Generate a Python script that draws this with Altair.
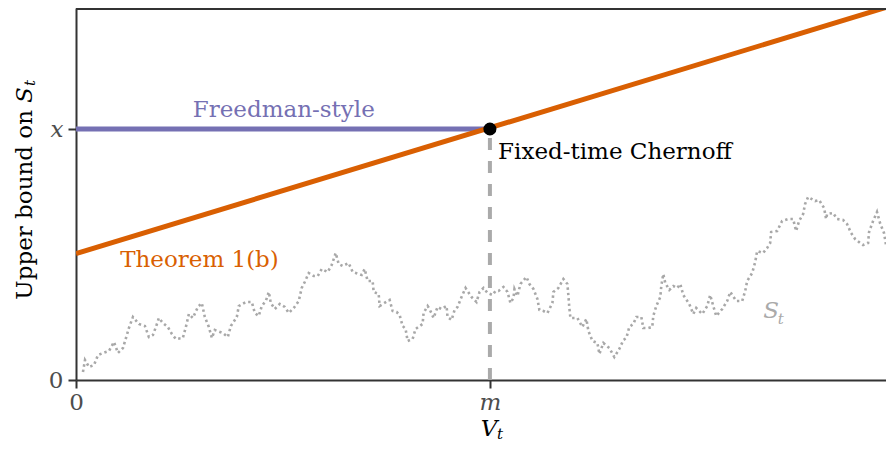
import altair as alt
import pandas as pd

# ---------------- data ----------------
walk_v = [0.85,1.10,1.59,2.20,2.69,3.30,4.03,4.64,5.13,5.74,
          6.11,6.47,6.96,7.69,8.42,8.91,9.40,9.77,10.13,10.62,
          11.23,11.72,12.21,13.06,13.43,13.80,14.29,14.90,15.38,15.75,
          16.24,16.61,16.97,17.95,18.56,18.93,19.66,19.90,20.76,21.49,
          21.86,22.34,22.71,23.20,23.57,23.81,24.30,24.91,25.52,26.01,
          26.62,27.23,27.59,27.96,28.45,29.06,29.55,30.04,30.77,31.26,
          31.75,32.11,32.60,33.33,33.82,34.92,35.29,35.65,36.26,36.39,
          37.00,37.12,38.10,38.34,38.71,39.19,39.56,39.93,40.29,40.54,
          41.15,41.51,42.37,42.49,42.98,43.22,43.71,44.20,44.69,45.30,
          45.42,45.91,46.28,46.64,47.13,47.62,48.35,48.96,49.33,49.82,
          50.31,50.92,51.28,51.65,52.26,52.75,53.11,53.48,53.60,53.97,
          54.33,55.07,55.43,55.92,56.41,56.65,57.14,57.63,58.24,58.36,
          58.97,59.58,60.07,60.20,60.30,60.44,61.29,61.90,62.39,62.64,
          63.13,63.74,63.98,64.47,65.20,65.81,66.42,66.91,67.28,67.64,
          68.13,68.50,69.11,69.35,69.96,70.45,70.57,70.94,71.43,71.55,
          71.79,72.04,72.53,73.02,73.50,73.87,74.24,74.97,75.46,75.82,
          76.56,77.17,77.53,77.90,78.27,79.00,79.61,79.98,80.71,81.44,
          81.81,82.05,82.66,83.03,83.27,84.00,84.49,84.86,84.98,85.71,
          86.32,87.06,87.67,88.03,88.40,88.89,89.13,89.50,90.35,90.84,
          91.45,91.70,91.82,92.55,93.04,93.77,94.26,94.75,95.24,95.85,
          96.21,96.83,96.95,97.44,97.92,98.29,98.78,99.02,99.51,99.88]
walk_s = [3.2,8.0,5.2,6.0,10.0,10.8,11.6,15.2,10.8,12.8,
          16.8,20.8,25.2,22.4,21.6,17.2,18.0,21.2,24.8,22.8,
          21.2,18.4,16.4,16.8,21.2,26.4,24.8,29.2,30.8,25.2,
          21.2,16.8,20.0,18.8,17.2,21.6,25.2,29.6,31.2,31.2,
          26.8,25.6,29.6,31.6,35.2,30.8,28.4,30.4,29.2,26.8,
          28.8,31.6,36.8,39.2,42.8,41.6,41.6,44.4,43.2,46.0,
          50.8,46.4,45.6,46.8,43.2,42.0,44.4,39.6,39.6,35.2,
          34.4,29.6,31.6,32.0,27.6,27.2,26.0,21.6,20.4,15.6,
          16.4,20.4,22.4,26.8,29.6,28.4,24.8,29.2,28.4,29.6,
          25.2,24.0,28.0,29.2,33.2,36.8,33.2,31.2,35.2,36.8,
          34.8,34.0,35.6,35.6,37.2,35.2,30.8,32.8,36.4,33.6,
          38.4,41.2,38.4,36.4,32.4,28.0,27.6,26.8,30.8,35.2,
          36.8,40.4,38.4,33.6,29.2,24.8,24.8,21.2,24.4,19.6,
          15.6,14.8,10.4,14.8,12.8,9.2,12.4,16.0,16.8,21.2,
          22.4,25.2,25.2,20.8,20.8,21.2,25.6,29.6,33.2,37.6,
          42.4,38.8,36.0,37.6,36.8,38.4,34.0,30.4,26.4,28.8,
          26.4,29.6,34.0,29.6,25.6,28.4,31.6,35.2,31.6,31.6,
          35.6,39.6,42.8,47.2,51.6,50.8,52.8,54.8,59.2,59.6,
          63.6,64.4,64.4,59.6,63.6,66.4,70.4,73.2,71.6,72.0,
          68.8,64.4,66.4,66.8,64.4,64.0,62.4,58.8,56.4,54.8,
          54.0,54.8,59.2,63.6,67.2,62.8,58.8,54.0,53.2,54.0]

m_val = 50.6          # position of tick "m" on V_t
x_level = 100.4       # position of tick "x" on the bound axis
theorem_v = [0, 100]
theorem_s = [50.6, 150]
freedman_v = [0, m_val]
v_domain = [0, 99.02]
s_domain = [0, 148.8]

labels = pd.DataFrame({
    "text": ["Freedman-style", "Theorem 1(b)", "Fixed-time Chernoff"],
    "v": [25.4, 5.4, 51.6],
    "s": [105.2, 45.3, 88.3],
    "color": ["#7570b3", "#d95f02", "#000000"],
    "align": ["center", "left", "left"],
})

FONT = "DejaVu Serif"
FS = 23
AXIS_C = "#333333"
PLOT_W = 810
PLOT_H = 372

# ---------------- scales / axes ----------------
xs = alt.Scale(domain=v_domain, nice=False, zero=False)
ys = alt.Scale(domain=s_domain, nice=False, zero=False)

italic_cond = {"condition": {"test": "datum.value > 0", "value": "italic"}, "value": "normal"}

xaxis = alt.Axis(values=[0, m_val], labelExpr="datum.value == 0 ? '0' : 'm'",
                 title=None, grid=False, domainColor=AXIS_C, domainWidth=2,
                 tickColor=AXIS_C, tickWidth=2, tickSize=8, labelFont=FONT,
                 labelFontSize=FS, labelColor="#4d4d4d", labelPadding=3,
                 labelFontStyle=italic_cond, labelFlush=False, labelOverlap=False)
yaxis = alt.Axis(values=[0, x_level], labelExpr="datum.value == 0 ? '0' : 'x'",
                 title=None, grid=False, domainColor=AXIS_C, domainWidth=2,
                 tickColor=AXIS_C, tickWidth=2, tickSize=8, labelFont=FONT,
                 labelFontSize=FS, labelColor="#4d4d4d", labelPadding=5,
                 labelFontStyle=italic_cond, labelFlush=False, labelOverlap=False)


def X(f):
    return alt.X(f, type="quantitative", scale=xs, axis=xaxis)


def Y(f):
    return alt.Y(f, type="quantitative", scale=ys, axis=yaxis)


walk_df = pd.DataFrame({"V": walk_v, "S": walk_s, "i": list(range(len(walk_v)))})
walk = alt.Chart(walk_df).mark_line(
    color="#a8a8a8", strokeWidth=2.6, strokeDash=[2.4, 3], clip=True
).encode(x=X("V"), y=Y("S"), order="i:Q")

drop = alt.Chart(pd.DataFrame({"V": [m_val], "S0": [0], "S1": [x_level]})).mark_rule(
    color="#aaaaaa", strokeWidth=4, strokeDash=[12, 11]
).encode(x=X("V"), y=Y("S0"), y2="S1")

freed = alt.Chart(pd.DataFrame({"V": freedman_v, "S": [x_level, x_level]})).mark_line(
    color="#7570b3", strokeWidth=5, strokeCap="butt"
).encode(x=X("V"), y=Y("S"))

theorem = alt.Chart(pd.DataFrame({"V": theorem_v, "S": theorem_s})).mark_line(
    color="#d95f02", strokeWidth=5, clip=True
).encode(x=X("V"), y=Y("S"))

dot = alt.Chart(pd.DataFrame({"V": [m_val], "S": [x_level]})).mark_circle(
    color="black", size=170, opacity=1
).encode(x=X("V"), y=Y("S"))

lab_layers = []
for _, r in labels.iterrows():
    lab_layers.append(
        alt.Chart(pd.DataFrame([r])).mark_text(
            font=FONT, fontSize=FS, color=r["color"], align=r["align"],
            baseline="alphabetic"
        ).encode(x=X("v"), y=Y("s"), text="text:N")
    )

st_s = alt.Chart(pd.DataFrame({"v": [84.0], "s": [24.8], "t": ["S"]})).mark_text(
    font=FONT, fontSize=FS, fontStyle="italic", color="#aaaaaa", align="left",
    baseline="alphabetic").encode(x=X("v"), y=Y("s"), text="t:N")
st_t = alt.Chart(pd.DataFrame({"v": [85.8], "s": [22.4], "t": ["t"]})).mark_text(
    font=FONT, fontSize=15, fontStyle="italic", color="#aaaaaa", align="left",
    baseline="alphabetic").encode(x=X("v"), y=Y("s"), text="t:N")

# top frame line
frame = alt.Chart(pd.DataFrame({"k": [0]})).mark_rule(color=AXIS_C, strokeWidth=2).encode(
    x=alt.value(0), x2=alt.value(PLOT_W), y=alt.value(1))


# axis titles made of pieces (italic math symbols with subscripts)
def txt(s, x, y, size=FS, style="normal", angle=0, align="left"):
    return alt.Chart(pd.DataFrame({"t": [s]})).mark_text(
        font=FONT, fontSize=size, fontStyle=style, angle=angle, align=align,
        baseline="alphabetic", color="black"
    ).encode(x=alt.value(x), y=alt.value(y), text="t:N")


titles = [
    txt("V", 413, 428, style="italic", align="center"),
    txt("t", 421, 431, size=15, style="italic"),
    txt("Upper bound on", -44, 102, angle=270, align="right"),
    txt("S", -44, 95, style="italic", angle=270),
    txt("t", -41, 78, size=15, style="italic", angle=270),
]

chart = alt.layer(walk, drop, freed, theorem, dot, *lab_layers, st_s, st_t, frame, *titles).properties(
    width=PLOT_W, height=PLOT_H,
    padding={"left": 68, "top": 0, "right": 0, "bottom": 63},
    autosize=alt.AutoSizeParams(type="none"),
).configure_view(stroke=None)

chart.save("out.html", embed_options={"renderer": "svg", "actions": False})
